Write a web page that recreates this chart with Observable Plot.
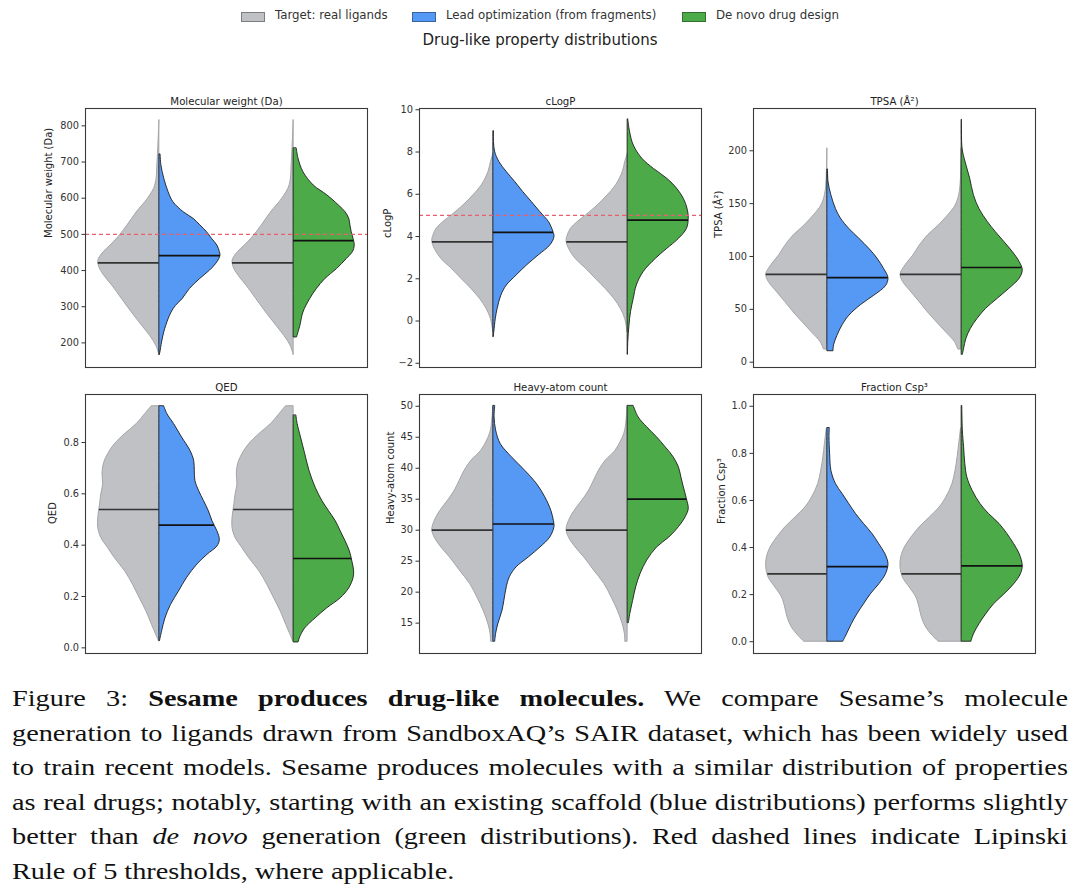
<!DOCTYPE html>
<html><head><meta charset="utf-8">
<script src="https://cdn.jsdelivr.net/npm/d3@7"></script>
<script src="https://cdn.jsdelivr.net/npm/@observablehq/plot@0.6"></script>
<style>
html,body{margin:0;padding:0;background:#fff;}
body{width:1080px;height:889px;overflow:hidden;position:relative;font-family:"DejaVu Sans",sans-serif;}
.sw{position:absolute;top:12px;width:24px;height:10px;border:1px solid rgba(0,0,0,0.35);box-sizing:border-box;}
.lt{position:absolute;top:8px;font-size:11.8px;color:#333;white-space:nowrap;}
#title{position:absolute;top:31px;left:0;width:1080px;text-align:center;font-size:15px;color:#222;}
.panel{position:absolute;}
#caption{position:absolute;left:12px;top:682px;width:858.5px;transform:scaleX(1.23);transform-origin:0 0;font-family:"Liberation Serif",serif;font-size:23px;line-height:34.5px;color:#111;}
#caption div.j{text-align:justify;text-align-last:justify;}
</style></head>
<body>
<div id="legend"></div>
<div id="title">Drug-like property distributions</div>
<div id="panels"></div>
<div id="caption">
<div class="j">Figure 3: <b>Sesame produces drug-like molecules.</b> We compare Sesame’s molecule</div>
<div class="j">generation to ligands drawn from SandboxAQ’s SAIR dataset, which has been widely used</div>
<div class="j">to train recent models. Sesame produces molecules with a similar distribution of properties</div>
<div class="j">as real drugs; notably, starting with an existing scaffold (blue distributions) performs slightly</div>
<div class="j">better than <i>de novo</i> generation (green distributions). Red dashed lines indicate Lipinski</div>
<div>Rule of 5 thresholds, where applicable.</div>
</div>
<script>
// ---------- data ----------
const groups = ["Target: real ligands", "Lead optimization (from fragments)", "De novo drug design"];
const groupColors = ["#bfc1c4", "#5599f5", "#4cab48"];

const titles = ["Molecular weight (Da)", "cLogP", "TPSA (Å²)", "QED", "Heavy-atom count", "Fraction Csp³"];
const yLabels = ["Molecular weight (Da)", "cLogP", "TPSA (Å²)", "QED", "Heavy-atom count", "Fraction Csp³"];

const tickValues = [
  [200, 300, 400, 500, 600, 700, 800],
  [-2, 0, 2, 4, 6, 8, 10],
  [0, 50, 100, 150, 200],
  [0.0, 0.2, 0.4, 0.6, 0.8],
  [15, 20, 25, 30, 35, 40, 45, 50],
  [0.0, 0.2, 0.4, 0.6, 0.8, 1.0]
];
const yDomains = [[132, 848], [-2.2, 10.06], [-5, 240], [-0.022, 0.987], [10.1, 51.9], [-0.05, 1.05]];
const thresholds = [500, 5, null, null, null, null];

// medians per group, per property
const mediansTarget = [421, 3.75, 83, 0.539, 30, 0.288];
const mediansLead   = [441, 4.2, 80, 0.478, 31, 0.319];
const mediansDenovo = [483, 4.78, 89.6, 0.348, 35, 0.322];

// violin half profiles: [value, relative density width]
const mwTarget = [[815,0],[700,0.03],[635,0.066],[598,0.19],[561,0.37],[525,0.52],[492,0.67],[469,0.80],[451,0.91],[432,0.99],[421,1.0],[404,0.97],[381,0.88],[358,0.77],[321,0.61],[284,0.45],[247,0.28],[219,0.15],[192,0.05],[173,0.01],[166,0]];
const mwLead = [[720,0.02],[691,0.033],[654,0.08],[617,0.15],[589,0.23],[561,0.40],[543,0.56],[525,0.67],[506,0.78],[488,0.86],[469,0.95],[451,0.99],[441,1.0],[423,0.95],[400,0.83],[377,0.67],[349,0.50],[321,0.38],[302,0.27],[284,0.2],[265,0.15],[229,0.08],[201,0.044],[173,0.016],[166,0.005]];
const mwDenovo = [[737,0.05],[709,0.08],[672,0.16],[635,0.33],[608,0.55],[580,0.74],[561,0.85],[543,0.91],[524,0.93],[506,0.95],[488,0.98],[469,1.0],[451,0.97],[432,0.87],[404,0.71],[377,0.52],[349,0.38],[321,0.27],[284,0.16],[247,0.11],[215,0.055]];

const clogpTarget = [[7.9,0],[7.52,0.04],[7.05,0.08],[6.42,0.19],[5.94,0.33],[5.47,0.49],[5.0,0.68],[4.68,0.82],[4.36,0.93],[4.05,0.98],[3.78,1.0],[3.42,0.96],[2.94,0.85],[2.47,0.68],[1.99,0.52],[1.52,0.36],[1.05,0.22],[0.57,0.11],[0.1,0.04],[-0.55,0]];
const clogpLead = [[8.97,0.01],[8.47,0.01],[7.99,0.03],[7.52,0.1],[7.05,0.22],[6.57,0.36],[6.1,0.49],[5.63,0.63],[5.15,0.77],[4.68,0.91],[4.24,0.98],[3.97,1.0],[3.57,0.93],[3.1,0.74],[2.63,0.55],[2.15,0.38],[1.68,0.22],[1.2,0.13],[0.57,0.07],[0.1,0.04],[-0.53,0.015],[-0.77,0.005]];
const clogpDenovo = [[9.53,0.01],[8.94,0.04],[8.31,0.1],[7.68,0.24],[7.2,0.43],[6.73,0.65],[6.26,0.81],[5.78,0.92],[5.31,0.98],[4.84,1.0],[4.36,0.97],[3.89,0.84],[3.42,0.65],[2.94,0.46],[2.31,0.26],[1.68,0.15],[1.05,0.1],[0.42,0.055],[-0.22,0.03],[-1.0,0.01],[-1.6,0.005]];

const tpsaTarget = [[202,0],[170,0.015],[158,0.04],[148,0.1],[139,0.22],[129,0.38],[120,0.55],[110,0.69],[101,0.79],[91.5,0.92],[83,1.0],[76,0.96],[66,0.82],[57,0.69],[47,0.55],[38,0.41],[28,0.25],[19,0.11],[12,0.055]];
const tpsaLead = [[182,0.01],[170,0.02],[158,0.065],[145,0.14],[136,0.22],[126,0.36],[117,0.52],[107,0.69],[98,0.82],[88,0.93],[79.5,1.0],[72,0.96],[63,0.77],[54,0.55],[44,0.36],[35,0.25],[25,0.165],[16,0.11],[10.4,0.1]];
const tpsaDenovo = [[229,0.005],[202,0.015],[189,0.065],[173.5,0.14],[158,0.2],[145,0.29],[132.5,0.43],[123,0.56],[113.6,0.7],[104,0.84],[94.7,0.95],[86.8,1.0],[79,0.95],[69.4,0.78],[60,0.59],[50.5,0.4],[41,0.26],[31.5,0.15],[22,0.077],[12.6,0.04],[7,0.02]];

const qedTarget = [[0.94,0.13],[0.911,0.23],[0.872,0.37],[0.833,0.56],[0.793,0.73],[0.754,0.84],[0.715,0.91],[0.676,0.93],[0.637,0.92],[0.598,0.95],[0.559,0.97],[0.506,1.0],[0.467,1.0],[0.428,0.95],[0.389,0.84],[0.35,0.73],[0.298,0.56],[0.245,0.43],[0.193,0.32],[0.141,0.21],[0.089,0.12],[0.05,0.05],[0.026,0.01]];
const qedLead = [[0.94,0.08],[0.911,0.13],[0.872,0.24],[0.82,0.37],[0.767,0.51],[0.728,0.57],[0.689,0.58],[0.65,0.59],[0.611,0.65],[0.572,0.73],[0.532,0.81],[0.493,0.87],[0.454,0.95],[0.42,0.99],[0.395,0.95],[0.363,0.79],[0.324,0.62],[0.271,0.45],[0.219,0.32],[0.167,0.19],[0.115,0.1],[0.063,0.044],[0.026,0.01]];
const qedDenovo = [[0.904,0.045],[0.872,0.065],[0.82,0.12],[0.754,0.19],[0.689,0.26],[0.624,0.36],[0.572,0.47],[0.532,0.58],[0.493,0.69],[0.454,0.77],[0.415,0.85],[0.376,0.92],[0.337,0.96],[0.298,0.99],[0.271,0.98],[0.232,0.91],[0.193,0.77],[0.154,0.55],[0.115,0.36],[0.076,0.19],[0.043,0.11],[0.021,0.08]];

const hacTarget = [[50,0.0],[46.1,0.04],[44.5,0.1],[42.8,0.2],[41.2,0.36],[39.6,0.47],[38,0.55],[36.4,0.63],[34.8,0.74],[33.1,0.87],[31.5,0.96],[30,1.0],[28.8,0.96],[27.2,0.85],[25.6,0.71],[23.5,0.55],[21.3,0.38],[19.1,0.26],[17,0.16],[14.8,0.08],[13.2,0.044],[12,0.04]];
const hacLead = [[50,0.03],[48.2,0.02],[46.1,0.045],[43.9,0.12],[41.8,0.3],[39.6,0.52],[37.5,0.71],[35.3,0.85],[33.1,0.95],[31.5,0.99],[30.5,1.0],[28.8,0.93],[27.2,0.77],[25.6,0.58],[24,0.38],[22.4,0.27],[20.8,0.22],[18.6,0.18],[17,0.15],[14.8,0.08],[13.2,0.044],[12,0.03]];
const hacDenovo = [[50,0.1],[48.2,0.18],[46.6,0.32],[45,0.48],[43.4,0.62],[41.8,0.75],[40.1,0.84],[38.5,0.88],[36.9,0.92],[35,0.97],[33.4,1.0],[32.1,0.95],[30.5,0.84],[28.8,0.68],[27.2,0.48],[25.1,0.32],[22.9,0.21],[20.8,0.14],[18.6,0.09],[16.5,0.044],[15,0.02]];

const fspTarget = [[0.904,0.01],[0.84,0.04],[0.783,0.066],[0.726,0.1],[0.67,0.15],[0.613,0.25],[0.57,0.36],[0.528,0.52],[0.485,0.69],[0.443,0.82],[0.4,0.93],[0.357,0.99],[0.315,1.0],[0.272,0.96],[0.23,0.85],[0.187,0.74],[0.145,0.69],[0.102,0.65],[0.06,0.58],[0.024,0.47],[0,0.38]];
const fspLead = [[0.906,0.04],[0.868,0.035],[0.797,0.045],[0.726,0.066],[0.67,0.14],[0.627,0.25],[0.584,0.36],[0.542,0.47],[0.5,0.6],[0.457,0.74],[0.414,0.85],[0.372,0.95],[0.33,1.0],[0.287,0.96],[0.244,0.85],[0.201,0.71],[0.159,0.6],[0.116,0.49],[0.074,0.4],[0.031,0.32],[0,0.26]];
const fspDenovo = [[1.0,0.01],[0.896,0.02],[0.826,0.04],[0.755,0.06],[0.698,0.093],[0.641,0.18],[0.584,0.31],[0.542,0.45],[0.5,0.62],[0.457,0.75],[0.414,0.86],[0.372,0.95],[0.322,1.0],[0.287,0.97],[0.244,0.86],[0.201,0.7],[0.159,0.53],[0.116,0.4],[0.074,0.29],[0.031,0.2],[0,0.16]];

const targetProfiles = [mwTarget, clogpTarget, tpsaTarget, qedTarget, hacTarget, fspTarget];
const leadProfiles = [mwLead, clogpLead, tpsaLead, qedLead, hacLead, fspLead];
const denovoProfiles = [mwDenovo, clogpDenovo, tpsaDenovo, qedDenovo, hacDenovo, fspDenovo];

// ---------- layout ----------
const HW = 0.455;               // max half-width in category units
const ML = 62, MR = 4, MT = 25, MB = 6, FW = 282, FH = 259;
const frameLefts = [85, 419, 753];
const frameTops = [108, 394];
const labelOffsets = [37, 32, 35, 33, 29, 32];
const tickFormats = [d3.format("d"), d3.format("d"), d3.format("d"), d3.format(".1f"), d3.format("d"), d3.format(".1f")];

// legend
const legend = document.getElementById("legend");
const swLeft = [241, 412, 682];
groups.forEach((g, i) => {
  const s = document.createElement("div"); s.className = "sw"; s.style.left = swLeft[i] + "px"; s.style.background = groupColors[i]; legend.appendChild(s);
  const t = document.createElement("div"); t.className = "lt"; t.style.left = (swLeft[i] + 34) + "px"; t.textContent = g; legend.appendChild(t);
});

function widthAt(profile, v) {
  for (let i = 0; i < profile.length - 1; i++) {
    const [a, wa] = profile[i], [b, wb] = profile[i + 1];
    if ((v <= a && v >= b) || (v >= a && v <= b)) {
      const t = a === b ? 0 : (v - a) / (b - a);
      return wa + t * (wb - wa);
    }
  }
  return 0;
}

const EDGE = "#1c1c1c", GRAY_EDGE = "#a3a5a8";
const panels = document.getElementById("panels");
for (let k = 0; k < 6; k++) {
  const col = k % 3, row = Math.floor(k / 3);
  const tgt = targetProfiles[k], lead = leadProfiles[k], dn = denovoProfiles[k];
  const marks = [];
  for (const pos of [0, 1]) {
    marks.push(Plot.areaX(tgt, {y: d => d[0], x1: d => pos - d[1] * HW, x2: () => pos, fill: groupColors[0], stroke: GRAY_EDGE, strokeWidth: 1, curve: "catmull-rom"}));
  }
  marks.push(Plot.areaX(lead, {y: d => d[0], x1: () => 0, x2: d => d[1] * HW, fill: groupColors[1], stroke: EDGE, strokeWidth: 0.9, curve: "catmull-rom"}));
  marks.push(Plot.areaX(dn, {y: d => d[0], x1: () => 1, x2: d => 1 + d[1] * HW, fill: groupColors[2], stroke: EDGE, strokeWidth: 0.9, curve: "catmull-rom"}));
  const medRows = [
    {y: mediansTarget[k], a: 0 - widthAt(tgt, mediansTarget[k]) * HW, b: 0, c: "#333"},
    {y: mediansTarget[k], a: 1 - widthAt(tgt, mediansTarget[k]) * HW, b: 1, c: "#333"},
    {y: mediansLead[k], a: 0, b: widthAt(lead, mediansLead[k]) * HW, c: "#111"},
    {y: mediansDenovo[k], a: 1, b: 1 + widthAt(dn, mediansDenovo[k]) * HW, c: "#111"}
  ];
  marks.push(Plot.ruleY(medRows, {y: "y", x1: "a", x2: "b", stroke: "c", strokeWidth: 1.7}));
  if (thresholds[k] != null) {
    marks.push(Plot.ruleY([thresholds[k]], {stroke: "#e8606e", strokeWidth: 1.2, strokeDasharray: "4,3"}));
  }
  marks.push(Plot.axisY({ticks: tickValues[k], tickFormat: tickFormats[k], tickSize: 3.5, tickPadding: 3, fontSize: 9.8, label: null, stroke: "#333", color: "#333"}));
  marks.push(Plot.frame({stroke: "#3a3a3a", strokeWidth: 1.1}));
  marks.push(Plot.text([titles[k]], {text: d => d, frameAnchor: "top", dy: -11, fontSize: 10.2, fill: "#222"}));
  marks.push(Plot.text([yLabels[k]], {text: d => d, frameAnchor: "left", rotate: -90, dx: -labelOffsets[k], fontSize: 10, fill: "#222"}));
  const svg = Plot.plot({
    width: ML + FW + MR, height: MT + FH + MB,
    marginLeft: ML, marginRight: MR, marginTop: MT, marginBottom: MB,
    x: {domain: [-0.55, 1.55], axis: null},
    y: {domain: yDomains[k], axis: null},
    style: {fontFamily: "DejaVu Sans, sans-serif", fontSize: "9.8px", color: "#333", background: "transparent", overflow: "visible"},
    marks
  });
  const wrap = document.createElement("div");
  wrap.className = "panel";
  wrap.style.left = (frameLefts[col] - ML) + "px";
  wrap.style.top = (frameTops[row] - MT) + "px";
  wrap.appendChild(svg);
  panels.appendChild(wrap);
}
</script>
</body></html>
